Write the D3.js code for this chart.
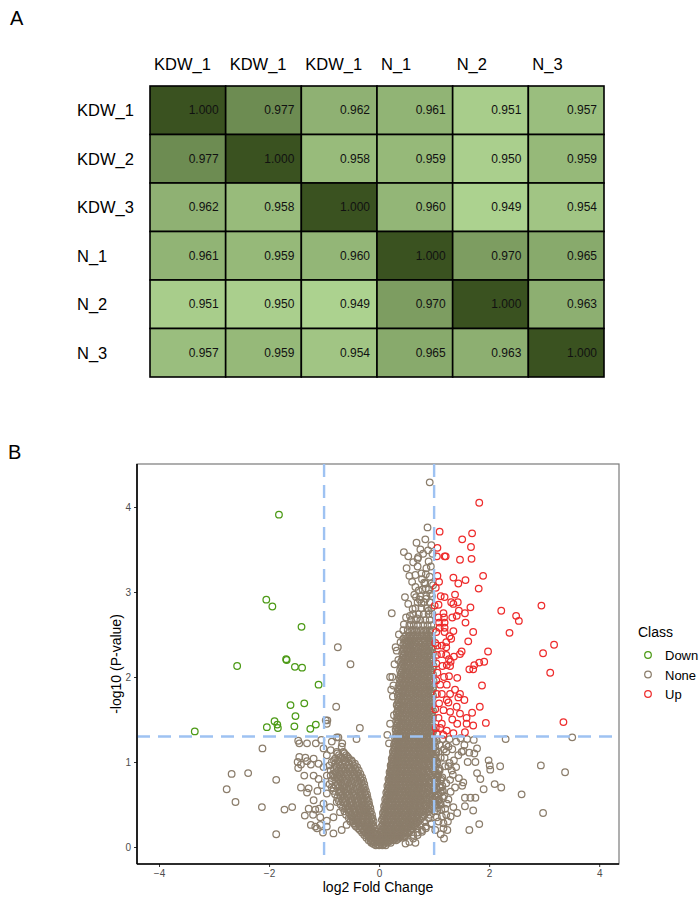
<!DOCTYPE html>
<html lang="en">
<head>
<meta charset="UTF-8">
<title>Correlation heatmap and volcano plot</title>
<style>
  body { margin: 0; background: #fff; }
  text { font-family: "Liberation Sans", Arial, sans-serif; }
</style>
</head>
<body>
<svg id="viz" width="699" height="899"></svg>
<script src="https://d3js.org/d3.v7.min.js"></script>
<script>
// ---- panel A data ----
const colLabels = ["KDW_1", "KDW_1", "KDW_1", "N_1", "N_2", "N_3"];
const rowLabels = ["KDW_1", "KDW_2", "KDW_3", "N_1", "N_2", "N_3"];
const corrValues = [
  [1.000, 0.977, 0.962, 0.961, 0.951, 0.957],
  [0.977, 1.000, 0.958, 0.959, 0.950, 0.959],
  [0.962, 0.958, 1.000, 0.960, 0.949, 0.954],
  [0.961, 0.959, 0.960, 1.000, 0.970, 0.965],
  [0.951, 0.950, 0.949, 0.970, 1.000, 0.963],
  [0.957, 0.959, 0.954, 0.965, 0.963, 1.000]
];

// ---- panel B data ----
const xTicks = [-4, -2, 0, 2, 4];
const yTicks = [0, 1, 2, 3, 4];
const fcCut = [-1, 1];
const pCut = 1.3;
const classes = ["Down", "None", "Up"];

const downPoints = [
  [-1.82,3.91],[-2.05,2.91],[-1.94,2.83],[-1.41,2.59],[-2.58,2.13],[-1.68,2.20],[-1.69,2.21],
  [-1.53,2.12],[-1.40,2.11],[-1.10,1.91],[-1.61,1.67],[-1.36,1.69],[-1.52,1.54],[-1.90,1.48],
  [-1.85,1.44],[-1.84,1.40],[-2.04,1.41],[-1.54,1.42],[-1.25,1.39],[-1.15,1.44],[-3.35,1.36]
];

const upPoints = [
  [1.82,4.05],[1.10,3.71],[1.69,3.69],[1.51,3.62],[1.67,3.53],[1.06,3.52],[1.05,3.42],[1.19,3.42],
  [1.21,3.42],[1.47,3.38],[1.68,3.39],[1.06,3.19],[1.09,3.12],[1.35,3.17],[1.44,3.10],[1.57,3.14],
  [1.89,3.19],[1.81,3.04],[1.19,2.94],[1.38,2.97],[1.01,2.84],[1.08,2.85],[1.31,2.88],[1.43,2.88],
  [1.35,2.86],[1.66,2.82],[2.95,2.84],[2.22,2.78],[1.45,2.78],[1.56,2.75],[1.17,2.75],[1.08,2.70],
  [1.18,2.70],[1.33,2.70],[1.41,2.72],[2.49,2.72],[2.54,2.66],[1.57,2.64],[1.09,2.64],[1.19,2.64],
  [1.10,2.58],[1.19,2.58],[1.04,2.53],[1.19,2.53],[1.35,2.54],[1.71,2.53],[2.37,2.52],[1.31,2.45],
  [1.22,2.41],[1.06,2.37],[1.14,2.37],[3.18,2.38],[1.22,2.35],[1.98,2.30],[1.47,2.27],[1.05,2.26],
  [1.13,2.27],[1.22,2.26],[2.98,2.28],[1.36,2.24],[1.27,2.21],[1.30,2.18],[1.91,2.18],[1.82,2.17],
  [1.73,2.14],[1.64,2.09],[1.71,2.09],[1.04,2.16],[1.15,2.13],[1.23,2.14],[1.29,2.13],[3.11,2.05],
  [1.06,2.05],[1.18,2.00],[1.27,2.01],[1.42,1.99],[1.87,1.90],[1.04,1.96],[1.11,1.91],[1.23,1.91],
  [1.14,1.80],[1.29,1.80],[1.47,1.80],[1.55,1.73],[1.44,1.76],[1.23,1.73],[1.05,1.80],[1.09,1.69],
  [1.17,1.61],[1.29,1.59],[1.41,1.65],[1.47,1.57],[1.59,1.52],[1.69,1.58],[1.59,1.45],[1.71,1.43],
  [1.83,1.65],[1.94,1.46],[3.35,1.47],[1.42,1.45],[1.14,1.45],[1.23,1.37],[1.35,1.34],[1.56,1.35],
  [1.05,1.33],[1.17,1.32],[1.02,1.62],[1.08,1.52],[1.33,1.50],[1.26,1.70],[1.38,1.85],[1.02,2.40],
  [1.28,2.48],[1.12,2.95],[1.03,3.05],[1.50,2.30],[1.62,2.42],[1.03,1.40],[1.11,1.40]
];

// dense part of the cloud, read row by row: [y, x values...]
const noneRows = [
  [0.02, 0.0, 0.06, 0.12, -0.06],
  [0.05, 0.03, 0.09, 0.15, 0.21, -0.08, -0.14],
  [0.08, 0.0, 0.06, 0.12, 0.18, 0.25, 0.31, -0.06, -0.12, -0.19],
  [0.11, 0.03, 0.09, 0.15, 0.22, 0.29, 0.36, 0.43, -0.09, -0.16, -0.23],
  [0.14, 0.05, 0.11, 0.18, 0.25, 0.32, 0.40, 0.48, 0.62, -0.07, -0.13, -0.20, -0.27],
  [0.17, 0.03, 0.08, 0.14, 0.21, 0.29, 0.36, 0.44, 0.52, 0.70, -0.10, -0.17, -0.24, -0.31],
  [0.20, 0.06, 0.12, 0.18, 0.25, 0.33, 0.41, 0.49, 0.57, 0.78, -0.12, -0.19, -0.27, -0.35],
  [0.24, 0.04, 0.09, 0.15, 0.22, 0.30, 0.38, 0.46, 0.54, 0.63, 0.85, -0.10, -0.17, -0.25, -0.33, -0.42],
  [0.28, 0.07, 0.13, 0.19, 0.26, 0.34, 0.42, 0.50, 0.59, 0.68, 0.95, -0.13, -0.21, -0.30, -0.38, -0.46],
  [0.32, 0.05, 0.10, 0.16, 0.23, 0.31, 0.39, 0.47, 0.55, 0.64, 0.74, -0.14, -0.22, -0.30, -0.39, -0.48],
  [0.36, 0.08, 0.14, 0.20, 0.27, 0.35, 0.43, 0.51, 0.60, 0.69, 0.79, -0.16, -0.25, -0.33, -0.42, -0.51],
  [0.40, 0.07, 0.12, 0.18, 0.25, 0.32, 0.40, 0.48, 0.56, 0.65, 0.74, 0.85, -0.17, -0.26, -0.35, -0.45, -0.55],
  [0.44, 0.10, 0.16, 0.22, 0.29, 0.36, 0.44, 0.52, 0.61, 0.70, 0.80, 0.91, -0.19, -0.28, -0.37, -0.47, -0.58],
  [0.48, 0.09, 0.14, 0.20, 0.27, 0.34, 0.41, 0.49, 0.57, 0.66, 0.75, 0.85, 0.97, -0.20, -0.30, -0.40, -0.50, -0.61],
  [0.52, 0.12, 0.18, 0.24, 0.31, 0.38, 0.45, 0.53, 0.62, 0.71, 0.80, 0.91, 1.03, -0.22, -0.32, -0.42, -0.53, -0.64],
  [0.56, 0.11, 0.16, 0.22, 0.28, 0.35, 0.42, 0.50, 0.58, 0.67, 0.76, 0.86, 0.97, 1.09, -0.23, -0.33, -0.44, -0.55, -0.67],
  [0.60, 0.14, 0.20, 0.26, 0.32, 0.39, 0.46, 0.54, 0.63, 0.72, 0.82, 0.92, 1.02, -0.25, -0.35, -0.46, -0.58, -0.70],
  [0.64, 0.13, 0.18, 0.24, 0.30, 0.36, 0.43, 0.51, 0.59, 0.68, 0.77, 0.87, 0.98, 1.12, -0.27, -0.37, -0.49, -0.61, -0.73],
  [0.68, 0.16, 0.22, 0.28, 0.34, 0.41, 0.48, 0.56, 0.64, 0.73, 0.83, 0.93, 1.05, -0.29, -0.40, -0.52, -0.64],
  [0.72, 0.15, 0.20, 0.26, 0.32, 0.38, 0.45, 0.52, 0.60, 0.69, 0.78, 0.88, 0.99, 1.15, -0.30, -0.42, -0.54, -0.67, -0.79],
  [0.76, 0.18, 0.24, 0.30, 0.36, 0.43, 0.50, 0.58, 0.66, 0.75, 0.84, 0.94, 1.06, -0.32, -0.44, -0.57, -0.70],
  [0.80, 0.17, 0.22, 0.28, 0.34, 0.40, 0.47, 0.54, 0.62, 0.70, 0.79, 0.89, 1.00, 1.13, -0.34, -0.46, -0.59, -0.73],
  [0.84, 0.20, 0.26, 0.32, 0.38, 0.45, 0.52, 0.60, 0.68, 0.76, 0.85, 0.95, 1.08, -0.37, -0.49, -0.62, -0.76, -0.88],
  [0.88, 0.19, 0.24, 0.30, 0.36, 0.42, 0.49, 0.56, 0.64, 0.72, 0.81, 0.90, 1.01, -0.40, -0.52, -0.65, -0.79],
  [0.92, 0.22, 0.28, 0.34, 0.40, 0.47, 0.54, 0.61, 0.69, 0.77, 0.86, 0.96, 1.10, -0.43, -0.55, -0.68, -0.82],
  [0.96, 0.21, 0.26, 0.32, 0.38, 0.44, 0.51, 0.58, 0.66, 0.74, 0.82, 0.91, 1.00, -0.46, -0.58, -0.71],
  [1.00, 0.24, 0.30, 0.36, 0.42, 0.49, 0.56, 0.63, 0.71, 0.79, 0.88, 0.97, 1.06, -0.49, -0.61, -0.74, -0.86],
  [1.04, 0.23, 0.28, 0.34, 0.40, 0.46, 0.53, 0.60, 0.68, 0.76, 0.84, 0.93, 1.02, -0.55, -0.68, -0.80],
  [1.08, 0.26, 0.32, 0.38, 0.44, 0.51, 0.58, 0.65, 0.73, 0.81, 0.89, 0.98, -0.60, -0.73],
  [1.12, 0.25, 0.30, 0.36, 0.42, 0.48, 0.55, 0.62, 0.70, 0.78, 0.86, 0.95, 1.04, -0.65],
  [1.16, 0.28, 0.34, 0.40, 0.46, 0.53, 0.60, 0.67, 0.75, 0.83, 0.91, 0.99],
  [1.20, 0.27, 0.32, 0.38, 0.44, 0.50, 0.57, 0.64, 0.72, 0.80, 0.88, 0.96],
  [1.24, 0.30, 0.36, 0.42, 0.48, 0.55, 0.62, 0.69, 0.77, 0.85, 0.93, 1.01],
  [1.28, 0.29, 0.34, 0.40, 0.46, 0.52, 0.59, 0.66, 0.74, 0.82, 0.90, 0.98],
  [1.33, 0.31, 0.37, 0.43, 0.50, 0.57, 0.64, 0.71, 0.79, 0.87, 0.95],
  [1.38, 0.30, 0.35, 0.41, 0.47, 0.54, 0.61, 0.68, 0.76, 0.84, 0.92, 0.99],
  [1.43, 0.32, 0.38, 0.44, 0.51, 0.58, 0.65, 0.73, 0.81, 0.89, 0.97],
  [1.48, 0.31, 0.36, 0.42, 0.48, 0.55, 0.62, 0.70, 0.78, 0.86, 0.94],
  [1.53, 0.33, 0.39, 0.45, 0.52, 0.59, 0.67, 0.75, 0.83, 0.91, 0.98],
  [1.58, 0.32, 0.37, 0.43, 0.49, 0.56, 0.64, 0.72, 0.80, 0.88, 0.96],
  [1.63, 0.34, 0.40, 0.46, 0.53, 0.61, 0.69, 0.77, 0.85, 0.93],
  [1.68, 0.33, 0.38, 0.44, 0.50, 0.57, 0.65, 0.73, 0.81, 0.89, 0.97],
  [1.73, 0.35, 0.41, 0.47, 0.54, 0.62, 0.70, 0.78, 0.86, 0.94],
  [1.78, 0.34, 0.39, 0.45, 0.51, 0.58, 0.66, 0.74, 0.82, 0.90, 0.98],
  [1.83, 0.36, 0.42, 0.48, 0.55, 0.63, 0.71, 0.79, 0.87, 0.95],
  [1.88, 0.35, 0.40, 0.46, 0.52, 0.59, 0.67, 0.75, 0.83, 0.91, 0.98],
  [1.93, 0.38, 0.44, 0.50, 0.57, 0.64, 0.72, 0.80, 0.88, 0.96],
  [1.98, 0.37, 0.42, 0.48, 0.54, 0.61, 0.69, 0.77, 0.85, 0.93],
  [2.03, 0.39, 0.45, 0.51, 0.58, 0.66, 0.74, 0.82, 0.90, 0.98],
  [2.08, 0.38, 0.43, 0.49, 0.55, 0.62, 0.70, 0.78, 0.86, 0.94],
  [2.13, 0.41, 0.47, 0.53, 0.60, 0.67, 0.75, 0.83, 0.91, 0.99],
  [2.18, 0.40, 0.45, 0.51, 0.57, 0.64, 0.72, 0.80, 0.88, 0.96],
  [2.23, 0.43, 0.49, 0.55, 0.62, 0.69, 0.77, 0.85, 0.93],
  [2.28, 0.42, 0.47, 0.53, 0.59, 0.66, 0.74, 0.82, 0.90, 0.98],
  [2.33, 0.45, 0.51, 0.57, 0.64, 0.71, 0.79, 0.87, 0.95],
  [2.38, 0.44, 0.50, 0.56, 0.62, 0.68, 0.76, 0.84, 0.92],
  [2.43, 0.47, 0.53, 0.60, 0.67, 0.74, 0.82, 0.90, 0.97],
  [2.49, 0.49, 0.56, 0.63, 0.70, 0.78, 0.86, 0.94],
  [2.55, 0.52, 0.60, 0.68, 0.76, 0.84, 0.92, 0.98],
  [2.61, 0.55, 0.63, 0.71, 0.80, 0.88, 0.95],
  [2.67, 0.58, 0.67, 0.75, 0.84, 0.92],
  [2.74, 0.62, 0.72, 0.81, 0.90, 0.97],
  [2.81, 0.66, 0.77, 0.87, 0.95],
  [2.88, 0.70, 0.82, 0.92],
  [2.95, 0.75, 0.86, 0.96],
  [3.03, 0.79, 0.90],
  [3.10, 0.84, 0.95]
];

// in-between rows of the same dense cloud: [y, x values...]
const noneRowsMid = [
  [0.035, 0.03, 0.09, -0.03, -0.10],
  [0.065, 0.06, 0.12, 0.18, 0.0, -0.09, -0.15],
  [0.095, 0.03, 0.09, 0.15, 0.22, 0.28, 0.34, -0.03, -0.14],
  [0.125, 0.06, 0.12, 0.19, 0.26, 0.33, 0.39, 0.46, -0.05, -0.12, -0.19],
  [0.155, 0.08, 0.15, 0.22, 0.29, 0.36, 0.44, 0.52, -0.04, -0.10, -0.17, -0.24],
  [0.185, 0.05, 0.11, 0.18, 0.25, 0.32, 0.40, 0.48, 0.56, -0.07, -0.14, -0.21, -0.28],
  [0.22, 0.09, 0.15, 0.21, 0.29, 0.37, 0.45, 0.53, 0.60, 0.70, -0.08, -0.15, -0.23, -0.31, -0.38],
  [0.26, 0.06, 0.12, 0.18, 0.26, 0.34, 0.42, 0.50, 0.58, 0.66, 0.75, -0.11, -0.19, -0.27, -0.36, -0.44],
  [0.30, 0.10, 0.16, 0.22, 0.30, 0.38, 0.46, 0.55, 0.63, 0.71, 0.82, -0.10, -0.18, -0.26, -0.34, -0.43, -0.52],
  [0.34, 0.07, 0.13, 0.19, 0.27, 0.35, 0.43, 0.51, 0.60, 0.69, 0.77, 0.90, -0.12, -0.20, -0.29, -0.37, -0.46, -0.55],
  [0.38, 0.10, 0.16, 0.23, 0.30, 0.38, 0.46, 0.54, 0.63, 0.72, 0.82, 0.92, -0.13, -0.21, -0.30, -0.40, -0.50, -0.60],
  [0.42, 0.09, 0.15, 0.21, 0.28, 0.36, 0.44, 0.52, 0.61, 0.70, 0.80, 0.90, 1.00, -0.15, -0.23, -0.32, -0.42, -0.52, -0.63],
  [0.46, 0.12, 0.18, 0.25, 0.32, 0.40, 0.48, 0.56, 0.65, 0.75, 0.85, 0.96, 1.06, -0.16, -0.24, -0.34, -0.45, -0.55, -0.66],
  [0.50, 0.11, 0.17, 0.23, 0.30, 0.37, 0.45, 0.54, 0.62, 0.71, 0.81, 0.92, 1.02, 1.12, -0.18, -0.26, -0.36, -0.47, -0.58, -0.70],
  [0.54, 0.14, 0.20, 0.27, 0.34, 0.42, 0.50, 0.58, 0.67, 0.76, 0.86, 0.96, 1.08, -0.19, -0.28, -0.38, -0.49, -0.60, -0.73],
  [0.58, 0.13, 0.19, 0.25, 0.31, 0.38, 0.46, 0.54, 0.63, 0.72, 0.81, 0.91, 1.03, 1.16, -0.21, -0.30, -0.40, -0.52, -0.63, -0.76],
  [0.62, 0.16, 0.22, 0.28, 0.35, 0.42, 0.50, 0.58, 0.67, 0.76, 0.86, 0.96, 1.08, -0.22, -0.31, -0.42, -0.54, -0.66, -0.80],
  [0.66, 0.15, 0.21, 0.27, 0.33, 0.40, 0.47, 0.55, 0.63, 0.72, 0.81, 0.91, 1.02, 1.14, -0.24, -0.33, -0.45, -0.57, -0.69, -0.83],
  [0.70, 0.18, 0.24, 0.30, 0.37, 0.44, 0.52, 0.60, 0.69, 0.78, 0.88, 0.98, 1.10, -0.26, -0.35, -0.47, -0.59, -0.72, -0.86],
  [0.74, 0.17, 0.23, 0.29, 0.35, 0.42, 0.49, 0.57, 0.65, 0.74, 0.83, 0.93, 1.04, -0.27, -0.37, -0.49, -0.62, -0.75, -0.90],
  [0.78, 0.20, 0.26, 0.32, 0.39, 0.46, 0.54, 0.62, 0.71, 0.80, 0.90, 1.01, 1.12, -0.29, -0.39, -0.51, -0.64, -0.78],
  [0.82, 0.19, 0.25, 0.31, 0.37, 0.44, 0.51, 0.59, 0.67, 0.76, 0.85, 0.95, 1.06, -0.31, -0.42, -0.54, -0.67, -0.81],
  [0.86, 0.22, 0.28, 0.34, 0.41, 0.48, 0.56, 0.64, 0.72, 0.81, 0.91, 1.02, -0.34, -0.45, -0.58, -0.71, -0.84],
  [0.90, 0.21, 0.27, 0.33, 0.39, 0.46, 0.53, 0.61, 0.69, 0.78, 0.87, 0.98, 1.08, -0.37, -0.48, -0.61, -0.74, -0.88],
  [0.94, 0.24, 0.30, 0.36, 0.43, 0.50, 0.58, 0.66, 0.74, 0.83, 0.93, 1.03, -0.40, -0.52, -0.64, -0.77],
  [0.98, 0.23, 0.29, 0.35, 0.41, 0.48, 0.55, 0.63, 0.71, 0.80, 0.89, 0.99, -0.44, -0.55, -0.67, -0.80],
  [1.02, 0.26, 0.32, 0.38, 0.45, 0.52, 0.60, 0.68, 0.76, 0.85, 0.94, 1.04, -0.50, -0.62, -0.75],
  [1.06, 0.25, 0.31, 0.37, 0.43, 0.50, 0.57, 0.65, 0.73, 0.82, 0.91, 1.00, -0.57, -0.70],
  [1.10, 0.28, 0.34, 0.40, 0.47, 0.54, 0.62, 0.70, 0.78, 0.87, 0.96, -0.63, -0.76],
  [1.14, 0.27, 0.33, 0.39, 0.45, 0.52, 0.59, 0.67, 0.75, 0.84, 0.93, 1.02],
  [1.18, 0.30, 0.36, 0.42, 0.49, 0.56, 0.63, 0.71, 0.79, 0.87, 0.95],
  [1.22, 0.29, 0.35, 0.41, 0.47, 0.54, 0.61, 0.68, 0.76, 0.84, 0.92, 1.00],
  [1.26, 0.32, 0.38, 0.44, 0.51, 0.58, 0.65, 0.73, 0.81, 0.89, 0.97],
  [1.30, 0.31, 0.37, 0.43, 0.49, 0.56, 0.63, 0.70, 0.78, 0.86, 0.94],
  [1.355, 0.33, 0.40, 0.47, 0.54, 0.61, 0.68, 0.75, 0.83, 0.91, 0.98],
  [1.405, 0.32, 0.38, 0.44, 0.50, 0.57, 0.64, 0.72, 0.80, 0.88, 0.96],
  [1.455, 0.34, 0.41, 0.48, 0.55, 0.62, 0.69, 0.77, 0.85, 0.93],
  [1.505, 0.33, 0.39, 0.45, 0.52, 0.59, 0.66, 0.74, 0.82, 0.90, 0.97],
  [1.555, 0.35, 0.42, 0.49, 0.56, 0.63, 0.71, 0.79, 0.87, 0.95],
  [1.605, 0.34, 0.40, 0.46, 0.52, 0.60, 0.68, 0.76, 0.84, 0.92, 0.98],
  [1.655, 0.36, 0.43, 0.50, 0.57, 0.65, 0.73, 0.81, 0.89, 0.96],
  [1.705, 0.35, 0.41, 0.47, 0.53, 0.61, 0.69, 0.77, 0.85, 0.93],
  [1.755, 0.37, 0.44, 0.51, 0.58, 0.66, 0.74, 0.82, 0.90, 0.97],
  [1.805, 0.36, 0.42, 0.48, 0.55, 0.62, 0.70, 0.78, 0.86, 0.94],
  [1.855, 0.38, 0.45, 0.52, 0.59, 0.67, 0.75, 0.83, 0.91, 0.98],
  [1.905, 0.37, 0.43, 0.49, 0.56, 0.63, 0.71, 0.79, 0.87, 0.95],
  [1.955, 0.40, 0.47, 0.54, 0.61, 0.68, 0.76, 0.84, 0.92, 0.99],
  [2.005, 0.39, 0.45, 0.51, 0.57, 0.65, 0.73, 0.81, 0.89, 0.96],
  [2.055, 0.41, 0.48, 0.55, 0.62, 0.70, 0.78, 0.86, 0.94],
  [2.105, 0.40, 0.46, 0.52, 0.58, 0.66, 0.74, 0.82, 0.90, 0.97],
  [2.155, 0.43, 0.50, 0.57, 0.64, 0.71, 0.79, 0.87, 0.95],
  [2.205, 0.42, 0.48, 0.54, 0.60, 0.68, 0.76, 0.84, 0.92, 0.98],
  [2.255, 0.45, 0.52, 0.58, 0.65, 0.73, 0.81, 0.89, 0.96],
  [2.305, 0.44, 0.50, 0.56, 0.62, 0.70, 0.78, 0.86, 0.93],
  [2.355, 0.48, 0.54, 0.60, 0.67, 0.75, 0.83, 0.91, 0.98],
  [2.405, 0.47, 0.53, 0.59, 0.65, 0.72, 0.80, 0.88, 0.95],
  [2.46, 0.51, 0.58, 0.66, 0.73, 0.81, 0.89, 0.96],
  [2.52, 0.54, 0.62, 0.70, 0.78, 0.86, 0.93]
];

// scattered grey points outside the dense cloud: [x, y]
const noneScatter = [
  [-2.12,1.16],[-2.68,0.86],[-2.38,0.87],[-2.77,0.68],[-2.61,0.53],[-2.13,0.47],[-1.87,0.79],
  [-1.72,0.44],[-1.58,0.47],[-1.87,0.15],[-1.47,1.25],[-1.45,1.22],[-1.31,1.22],[-1.15,1.22],
  [-1.45,1.06],[-1.34,1.05],[-1.31,1.01],[-1.48,1.00],[-1.42,0.97],[-1.24,0.97],[-1.47,0.93],
  [-1.28,0.69],[-1.42,0.70],[-1.31,0.64],[-1.28,0.45],[-1.16,0.44],[-1.09,0.45],[-1.24,0.26],
  [-1.16,0.24],[-1.07,0.26],[-1.02,0.17],[-1.20,0.38],[-1.01,1.16],[-0.95,1.08],[-0.88,1.14],
  [-0.82,1.02],[-0.77,1.12],[-0.68,1.18],[-1.19,1.04],[-1.10,0.98],[-1.01,0.94],[-1.19,0.84],
  [-1.10,0.80],[-0.95,0.84],[-0.86,0.78],[-0.77,0.82],[-0.68,0.90],[-1.04,0.73],[-0.95,0.63],
  [-0.83,0.69],[-0.71,0.65],[-1.19,0.55],[-1.01,0.51],[-0.89,0.47],[-0.77,0.53],[-1.07,0.35],
  [-0.95,0.31],[-0.83,0.35],[-0.71,0.41],[-1.13,0.22],[-0.95,0.24],[-0.83,0.16],[-0.68,0.20],
  [-0.59,0.26],[-0.97,1.49],[-0.95,1.45],[-0.78,1.65],[-0.77,1.29],[-0.74,1.29],[-0.67,1.22],
  [-0.41,1.27],[-0.35,1.40],[-0.75,2.35],[-0.52,2.15],[0.23,2.75],[-0.94,1.49],[0.20,2.00],
  [0.26,1.90],[0.25,1.77],[0.32,1.67],[0.35,2.20],[0.32,2.31],[0.44,2.45],[0.50,3.28],
  [0.45,3.47],[0.55,3.19],[0.67,2.94],[0.47,2.94],[0.74,2.91],[0.77,2.87],[0.53,3.42],
  [0.70,3.39],[0.77,3.22],[0.82,3.11],[0.85,3.04],[0.92,4.29],[0.88,3.76],[0.75,3.50],
  [0.89,3.49],[0.71,3.41],[0.90,3.36],[0.70,3.30],[0.85,3.21],[0.92,3.18],[0.66,3.06],
  [0.93,2.98],[0.56,2.72],[0.69,2.69],[0.44,2.55],[0.39,2.41],[0.24,2.00],[0.18,1.22],
  [1.05,1.25],[1.10,1.20],[1.15,1.27],[1.08,1.12],[1.18,1.15],[1.12,1.05],[1.05,0.98],
  [1.20,0.95],[1.10,0.90],[1.15,0.82],[1.05,0.78],[1.22,0.75],[1.12,0.70],[1.05,0.62],
  [1.18,0.60],[1.10,0.52],[1.20,0.45],[1.06,0.42],[1.14,0.36],[1.08,0.30],[1.25,0.30],
  [1.02,0.20],[1.12,0.15],[1.28,1.27],[1.40,1.24],[1.48,1.28],[1.60,1.27],[2.30,1.27],
  [3.51,1.29],[2.94,0.96],[3.38,0.88],[2.59,0.62],[2.98,0.40],[1.99,1.02],[2.01,0.96],
  [2.02,0.91],[2.20,0.95],[2.10,0.74],[2.22,0.70],[1.90,0.68],[1.78,0.87],[1.84,0.80],
  [1.61,1.00],[1.75,1.00],[1.55,1.20],[1.64,1.11],[1.73,1.10],[1.78,1.16],[1.72,1.26],
  [1.53,1.13],[1.50,1.12],[1.53,0.76],[1.51,0.72],[1.45,0.81],[1.56,0.58],[1.66,0.58],
  [1.75,0.58],[1.56,0.48],[1.71,0.43],[1.42,0.40],[1.82,0.27],[1.64,0.20],[1.17,0.28],
  [1.26,0.56],[1.23,0.51],[1.30,0.65],[1.29,0.79],[1.34,0.85],[1.32,0.90],[1.28,0.99],
  [1.22,1.12],[1.33,1.15],[1.22,1.20],[0.62,0.10],[0.70,0.14],[0.78,0.18],[0.66,0.05],
  [0.85,0.22],[0.95,0.27],[0.55,0.06],[0.48,0.04],[1.36,1.02],[1.40,0.94],[1.38,0.70],
  [1.35,0.47],[1.30,0.36],[1.24,0.20],[1.18,0.10],[1.44,1.08],[-1.36,0.84],[-1.12,0.66],
  [-0.90,0.96],[-1.05,1.26],[-0.86,1.24],[-1.35,0.37],[-0.63,1.05],
  [0.58,2.62],[0.49,2.70],[0.61,2.80],[0.53,2.86],[0.64,2.97],[0.72,3.02],[0.60,3.12],
  [0.78,3.15],[0.66,3.20],[0.86,3.28],[0.62,3.35],[0.80,3.45],[0.95,3.55],[0.68,3.58],
  [0.84,3.62],[0.97,3.45],[0.94,3.30],[0.98,3.08],[0.45,2.62],[0.36,2.50],[0.30,2.35],
  [0.28,2.15],[0.22,1.85],[0.27,1.55],[0.20,1.45],[0.15,1.32],[0.90,2.78],[0.85,2.92],
  [1.03,1.08],[1.07,0.86],[1.16,0.66],[1.03,0.50],[1.13,0.44],[1.22,0.38],[1.05,0.35],
  [1.17,0.22],[1.26,0.95],[1.19,1.05],[1.02,1.18],[1.26,1.18]
];

const classColor = { Down: "#4c9a16", None: "#8b7d6b", Up: "#ee2c2c" };

const svg = d3.select("#viz");

// ================= panel A =================
svg.append("text").attr("x", 10).attr("y", 25)
  .style("font-size", "20px").text("A");

const hx = d3.scaleBand().domain(d3.range(colLabels.length)).range([150, 604]);
const hy = d3.scaleBand().domain(d3.range(rowLabels.length)).range([86, 377]);
const heatColor = d3.scaleLinear().domain([0.949, 1.0]).range(["#acd28f", "#3a5220"]);

const cells = [];
corrValues.forEach((row, i) => row.forEach((v, j) => cells.push({ i, j, v })));

const gA = svg.append("g");
gA.selectAll("rect.cell").data(cells).enter().append("rect")
  .attr("class", "cell")
  .attr("x", d => hx(d.j)).attr("y", d => hy(d.i))
  .attr("width", hx.bandwidth()).attr("height", hy.bandwidth())
  .style("fill", d => heatColor(d.v))
  .style("stroke", "#000").style("stroke-width", 1.6);

gA.selectAll("text.val").data(cells).enter().append("text")
  .attr("class", "val")
  .attr("x", d => hx(d.j) + hx.bandwidth() - 7)
  .attr("y", d => hy(d.i) + hy.bandwidth() / 2 + 4)
  .attr("text-anchor", "end")
  .style("font-size", "12px").style("fill", "#111")
  .text(d => d3.format(".3f")(d.v));

gA.selectAll("text.col").data(colLabels).enter().append("text")
  .attr("class", "col")
  .attr("x", (d, i) => hx(i) + 4).attr("y", 70)
  .style("font-size", "16.5px").text(d => d);

gA.selectAll("text.row").data(rowLabels).enter().append("text")
  .attr("class", "row")
  .attr("x", 77).attr("y", (d, i) => hy(i) + hy.bandwidth() / 2 + 6)
  .style("font-size", "16.5px").text(d => d);

// ================= panel B =================
svg.append("text").attr("x", 8).attr("y", 459)
  .style("font-size", "20px").text("B");

const pl = 137, pr = 619, pt = 464, pb = 864;
const x = d3.scaleLinear().domain([-4.4, 4.36]).range([pl, pr]);
const y = d3.scaleLinear().domain([-0.2, 4.506]).range([pb, pt]);

const nonePoints = [];
noneRows.concat(noneRowsMid).forEach(r => r.slice(1).forEach(xv => nonePoints.push([xv, r[0]])));
noneScatter.forEach(p => nonePoints.push(p));

const gB = svg.append("g");

gB.append("rect").attr("x", pl).attr("y", pt)
  .attr("width", pr - pl).attr("height", pb - pt)
  .style("fill", "#fff").style("stroke", "#7a7a7a").style("stroke-width", 1.2);

function drawPoints(data, cls) {
  gB.selectAll("circle." + cls).data(data).enter().append("circle")
    .attr("class", cls)
    .attr("cx", d => x(d[0])).attr("cy", d => y(d[1]))
    .attr("r", 3.3)
    .style("fill", "none")
    .style("stroke", classColor[cls])
    .style("stroke-width", 1.25);
}
drawPoints(nonePoints, "None");
drawPoints(downPoints, "Down");
drawPoints(upPoints, "Up");

// threshold lines
const dash = "13,8";
gB.selectAll("line.vcut").data(fcCut).enter().append("line")
  .attr("x1", d => x(d)).attr("x2", d => x(d))
  .attr("y1", pt).attr("y2", pb)
  .style("stroke", "#9ec2f2").style("stroke-width", 2.4)
  .style("stroke-dasharray", dash);
gB.append("line")
  .attr("x1", pl).attr("x2", pr).attr("y1", y(pCut)).attr("y2", y(pCut))
  .style("stroke", "#9ec2f2").style("stroke-width", 2.4)
  .style("stroke-dasharray", dash);

// axes
const xAxis = d3.axisBottom(x).tickValues(xTicks).tickSize(3).tickPadding(3).tickFormat(d3.format("d"));
const yAxis = d3.axisLeft(y).tickValues(yTicks).tickSize(3).tickPadding(3).tickFormat(d3.format("d"));

const gx = gB.append("g").attr("transform", `translate(0,${pb})`).call(xAxis);
const gy = gB.append("g").attr("transform", `translate(${pl},0)`).call(yAxis);
[gx, gy].forEach(g => {
  g.select(".domain").remove();
  g.selectAll(".tick line").style("stroke", "#333").style("stroke-width", 1);
  g.selectAll(".tick text").style("fill", "#4d4d4d").style("font-size", "10px")
    .style("font-family", "Liberation Sans, Arial, sans-serif");
});
gB.append("line").attr("x1", pl).attr("x2", pr).attr("y1", pb).attr("y2", pb)
  .style("stroke", "#000").style("stroke-width", 1.6);
gB.append("line").attr("x1", pl).attr("x2", pl).attr("y1", pt).attr("y2", pb)
  .style("stroke", "#000").style("stroke-width", 1.6);

gB.append("text").attr("x", (pl + pr) / 2).attr("y", 892)
  .attr("text-anchor", "middle").style("font-size", "14px")
  .text("log2 Fold Change");
gB.append("text")
  .attr("transform", `translate(121,${(pt + pb) / 2}) rotate(-90)`)
  .attr("text-anchor", "middle").style("font-size", "14px")
  .text("-log10 (P-value)");

// legend
const gL = svg.append("g");
gL.append("text").attr("x", 638).attr("y", 637).style("font-size", "14px").text("Class");
gL.selectAll("circle").data(classes).enter().append("circle")
  .attr("cx", 648).attr("cy", (d, i) => 655 + i * 19.5).attr("r", 3.3)
  .style("fill", "none").style("stroke", d => classColor[d]).style("stroke-width", 1.25);
gL.selectAll("text.lab").data(classes).enter().append("text")
  .attr("class", "lab")
  .attr("x", 665).attr("y", (d, i) => 660 + i * 19.5)
  .style("font-size", "13px").text(d => d);
</script>
</body>
</html>
